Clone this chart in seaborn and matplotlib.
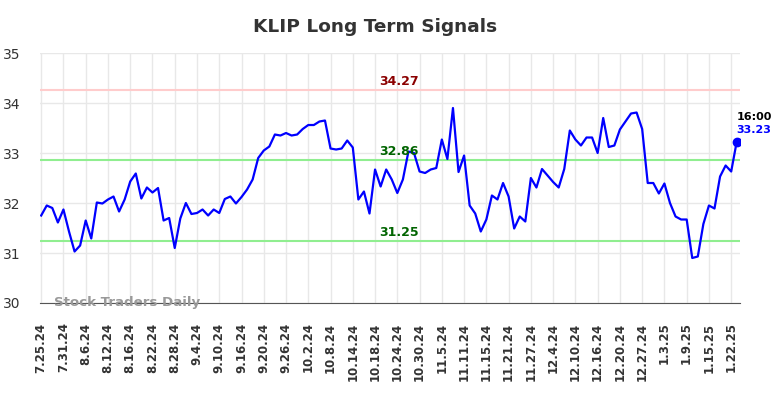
import numpy as np
import pandas as pd
import matplotlib
matplotlib.use('Agg')
import matplotlib.pyplot as plt
import seaborn as sns

# KLIP closing prices, one per trading day (7.25.24 .. 1.23.25)
precos = [
    31.75, 31.95, 31.90, 31.61, 31.87, 31.43, 31.03, 31.15, 31.65, 31.29,
    32.01, 31.99, 32.07, 32.13, 31.83, 32.07, 32.43, 32.59, 32.09, 32.31,
    32.21, 32.30, 31.65, 31.70, 31.10, 31.69, 32.00, 31.78, 31.80, 31.87,
    31.75, 31.87, 31.80, 32.08, 32.13, 31.99, 32.12, 32.27, 32.47, 32.90,
    33.05, 33.13, 33.37, 33.35, 33.40, 33.35, 33.37, 33.48, 33.56, 33.56,
    33.63, 33.65, 33.09, 33.07, 33.09, 33.25, 33.11, 32.07, 32.23, 31.79,
    32.67, 32.33, 32.67, 32.47, 32.20, 32.47, 33.03, 33.00, 32.63, 32.60,
    32.67, 32.70, 33.27, 32.88, 33.90, 32.62, 32.95, 31.95, 31.79, 31.43,
    31.67, 32.15, 32.07, 32.40, 32.13, 31.49, 31.73, 31.63, 32.50, 32.31,
    32.68, 32.55, 32.42, 32.31, 32.68, 33.45, 33.27, 33.15, 33.31, 33.31,
    33.00, 33.70, 33.12, 33.15, 33.47, 33.63, 33.79, 33.81, 33.48, 32.40,
    32.40, 32.19, 32.39, 32.00, 31.73, 31.67, 31.67, 30.90, 30.93, 31.58,
    31.95, 31.89, 32.53, 32.75, 32.63, 33.23,
]

rotulos_x = [
    '7.25.24', '7.31.24', '8.6.24', '8.12.24', '8.16.24', '8.22.24', '8.28.24',
    '9.4.24', '9.10.24', '9.16.24', '9.20.24', '9.26.24', '10.2.24', '10.8.24',
    '10.14.24', '10.18.24', '10.24.24', '10.30.24', '11.5.24', '11.11.24',
    '11.15.24', '11.21.24', '11.27.24', '12.4.24', '12.10.24', '12.16.24',
    '12.20.24', '12.27.24', '1.3.25', '1.9.25', '1.15.25', '1.22.25',
]

resistencia = 34.27
meio = 32.86
suporte = 31.25

dados = pd.DataFrame({'dia': np.arange(len(precos)), 'preco': precos})

fig = plt.figure(figsize=(7.84, 3.98), dpi=100)
ax = fig.add_axes([0.0504, 0.2387, 0.8936, 0.6281])

sns.lineplot(data=dados, x='dia', y='preco', color='#0000ff', linewidth=1.6, ax=ax, zorder=5)
ax.scatter(dados['dia'].iloc[-1], dados['preco'].iloc[-1], s=36, color='#0000ff', zorder=6)

ax.axhline(resistencia, color='#ffcccc', linewidth=1.5, zorder=3)
ax.axhline(meio, color='#90ee90', linewidth=1.5, zorder=3)
ax.axhline(suporte, color='#90ee90', linewidth=1.5, zorder=3)

meio_x = 64.3
ax.text(meio_x, resistencia + 0.04, f'{resistencia:.2f}', color='#8b0000', fontsize=9,
        fontweight='bold', ha='center', va='bottom', zorder=7)
ax.text(meio_x, meio + 0.04, f'{meio:.2f}', color='#006400', fontsize=9,
        fontweight='bold', ha='center', va='bottom', zorder=7)
ax.text(meio_x, suporte + 0.04, f'{suporte:.2f}', color='#006400', fontsize=9,
        fontweight='bold', ha='center', va='bottom', zorder=7)

ultimo = len(precos) - 1
ax.annotate('16:00', (ultimo, precos[-1]), xytext=(0, 18), textcoords='offset points',
            fontsize=8, fontweight='bold', color='black', ha='left', va='center')
ax.annotate(f'{precos[-1]:.2f}', (ultimo, precos[-1]), xytext=(0, 8), textcoords='offset points',
            fontsize=8, fontweight='bold', color='#0000ff', ha='left', va='center')

ax.text(2.3, 30.0, 'Stock Traders Daily', fontsize=9.6, fontweight='bold', color='#999999',
        ha='left', va='center', zorder=8)

ax.set_xlim(-0.3, ultimo + 0.6)
ax.set_ylim(30, 35)
ax.set_yticks([30, 31, 32, 33, 34, 35])
ax.set_xticks(np.arange(0, len(precos), 4))
ax.set_xticklabels(rotulos_x, rotation=90, fontsize=8.5, fontweight='bold', color='#333333')
ax.tick_params(axis='y', labelsize=10, colors='#333333', length=0, pad=14)
ax.tick_params(axis='x', length=0, pad=14)

ax.grid(True, color='#e8e8e8', linewidth=1)
ax.set_axisbelow(True)
for lado in ['top', 'right', 'left']:
    ax.spines[lado].set_visible(False)
ax.spines['bottom'].set_color('#555555')
ax.set_xlabel('')
ax.set_ylabel('')

fig.suptitle('KLIP Long Term Signals', x=0.478, y=0.955, fontsize=13.3, fontweight='bold', color='#333333')

plt.savefig('out.png', dpi=100)
